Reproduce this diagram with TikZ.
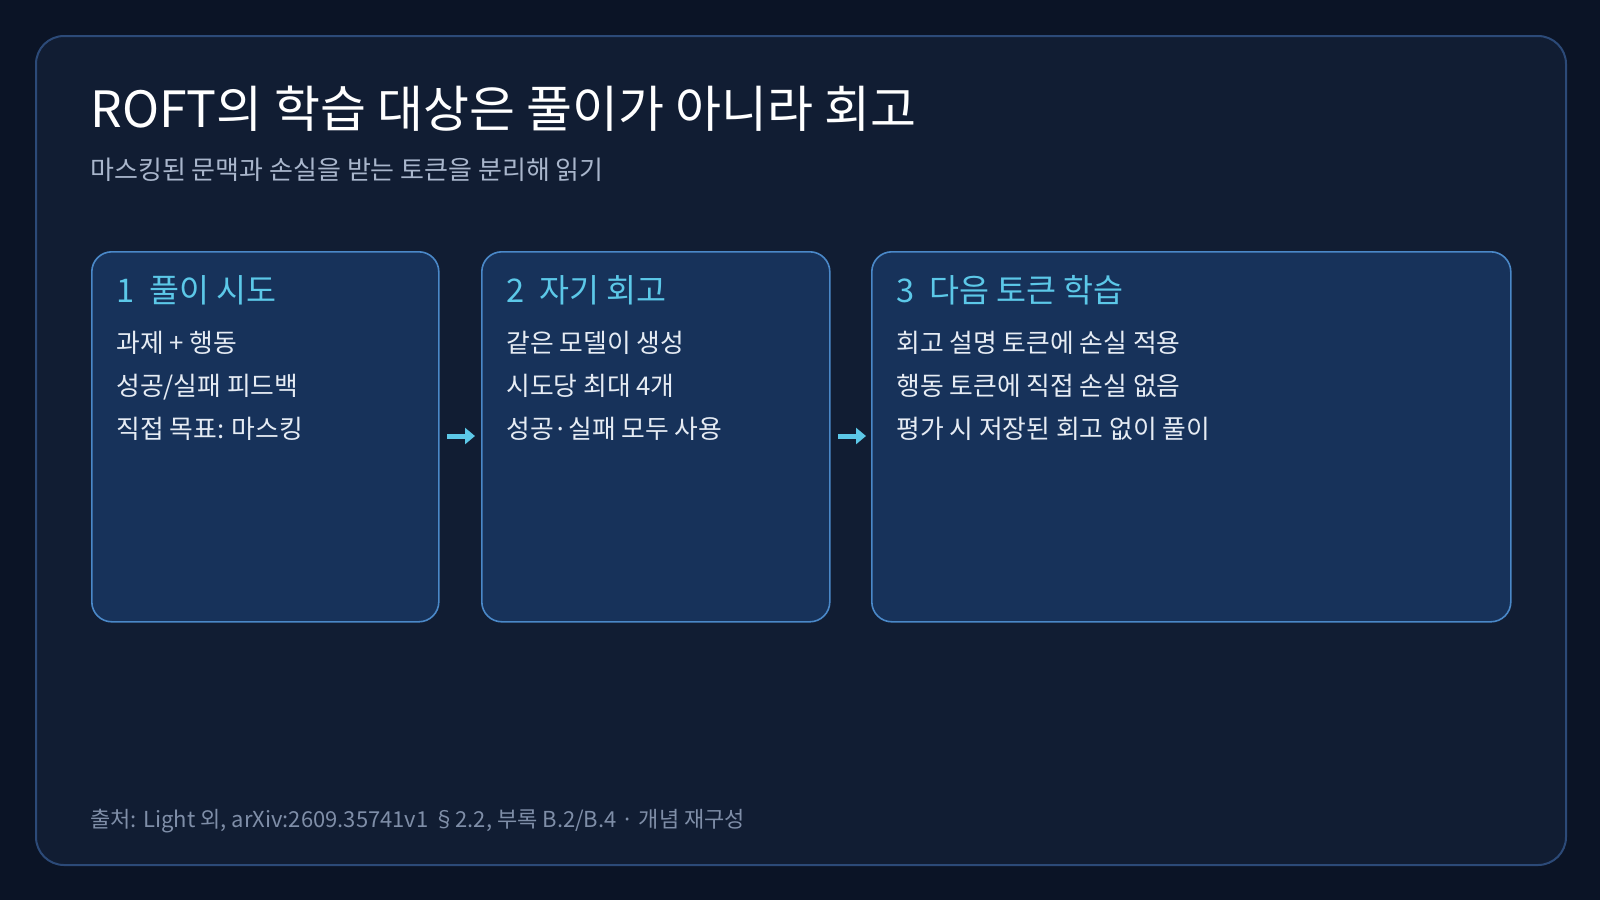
\documentclass[tikz,border=0pt]{standalone}
\usepackage{fontspec}
\setmainfont{Noto Sans CJK KR}
\usetikzlibrary{positioning,arrows.meta}

\definecolor{pagebg}{HTML}{0B1426}
\definecolor{framebg}{HTML}{111D33}
\definecolor{frameline}{HTML}{2C4A78}
\definecolor{boxbg}{HTML}{17325A}
\definecolor{boxline}{HTML}{4A88C8}
\definecolor{headcol}{HTML}{5CC8E8}
\definecolor{bodycol}{HTML}{E6ECF4}
\definecolor{subcol}{HTML}{A9B6CC}
\definecolor{footcol}{HTML}{7F8EA8}

\tikzset{
  stage/.style={draw=boxline,line width=0.8pt,fill=boxbg,rounded corners=10pt,inner sep=0pt},
  head/.style={anchor=west,text=headcol,font=\fontsize{16.3}{19}\selectfont,inner sep=0pt},
  body/.style={anchor=north west,text=bodycol,font=\fontsize{12.9}{21.5}\selectfont,align=left,inner sep=0pt},
  flow/.style={-{Triangle[length=5pt,width=8pt]},line width=2.5pt,draw=headcol}
}

\begin{document}
\begin{tikzpicture}[x=0.5pt,y=-0.5pt]
  \useasboundingbox[fill=pagebg] (0,0) rectangle (1600,900);
  \draw[fill=framebg,draw=frameline,line width=1pt,rounded corners=14pt] (36,36) rectangle (1566,865);

  \node[anchor=west,text=white,font=\fontsize{25}{29}\selectfont,inner sep=0pt] (title) at (90,109)
    {ROFT의 학습 대상은 풀이가 아니라 회고};
  \node[anchor=west,text=subcol,font=\fontsize{13}{15}\selectfont,inner sep=0pt] (sub) at (90,170)
    {마스킹된 문맥과 손실을 받는 토큰을 분리해 읽기};

  % stages
  \node[stage,minimum width=173.5pt,minimum height=185pt,anchor=north west] (s1) at (91,251) {};
  \node[stage,minimum width=174pt,minimum height=185pt,anchor=north west] (s2) at (481,251) {};
  \node[stage,minimum width=319.5pt,minimum height=185pt,anchor=north west] (s3) at (871,251) {};

  \node[head] (h1) at ([xshift=12.5pt,yshift=-19.5pt]s1.north west) {1\ \ 풀이 시도};
  \node[head] (h2) at ([xshift=12.5pt,yshift=-19.5pt]s2.north west) {2\ \ 자기 회고};
  \node[head] (h3) at ([xshift=12.5pt,yshift=-19.5pt]s3.north west) {3\ \ 다음 토큰 학습};

  \node[body] (b1) at ([yshift=-13pt]h1.south west) {과제 + 행동\\성공/실패 피드백\\직접 목표: 마스킹};
  \node[body] (b2) at ([yshift=-13pt]h2.south west) {같은 모델이 생성\\시도당 최대 4개\\성공·실패 모두 사용};
  \node[body] (b3) at ([yshift=-13pt]h3.south west) {회고 설명 토큰에 손실 적용\\행동 토큰에 직접 손실 없음\\평가 시 저장된 회고 없이 풀이};

  \coordinate (a1) at (447,436);
  \coordinate (a2) at (838,436);
  \draw[flow] (a1) -- ([xshift=14pt]a1);
  \draw[flow] (a2) -- ([xshift=14pt]a2);

  \node[anchor=west,text=footcol,font=\fontsize{11}{13}\selectfont,inner sep=0pt] (src) at (90,821)
    {출처: Light 외, arXiv:2609.35741v1 §2.2, 부록 B.2/B.4 · 개념 재구성};
\end{tikzpicture}
\end{document}
